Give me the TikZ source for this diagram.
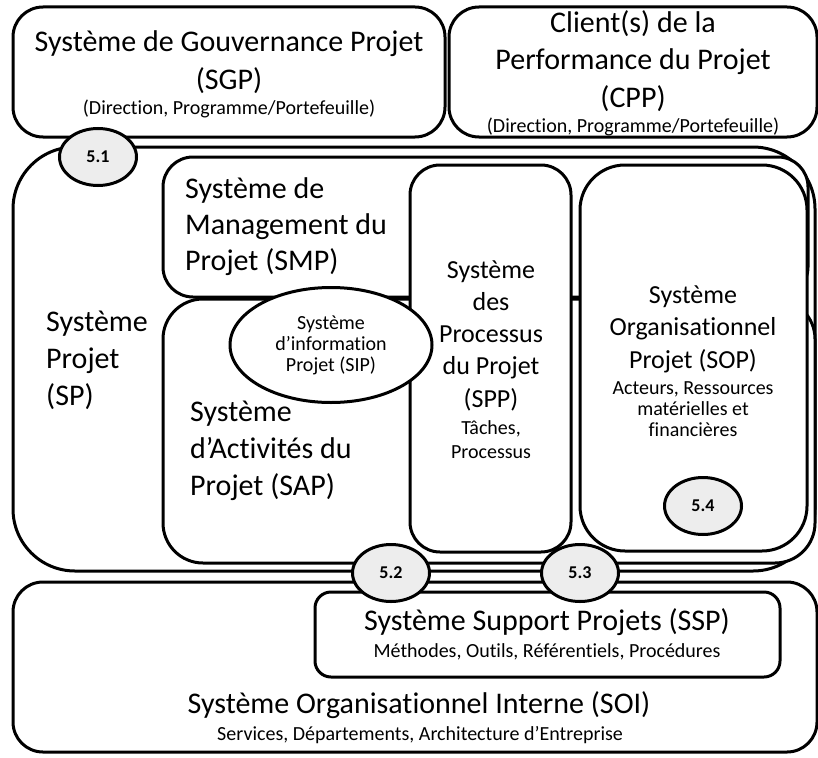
\documentclass[tikz,border=0pt]{standalone}
\usepackage{fontspec}
\setmainfont{Carlito}[Ligatures=NoCommon]
\usepackage{tikz}
\usetikzlibrary{shapes.geometric}

\tikzset{
  frame/.style={draw,line width=3pt,fill=white},
  bigtext/.style={inner sep=0pt,font=\fontsize{30}{37}\selectfont},
  midtext/.style={inner sep=0pt,align=center,font=\fontsize{26}{32.2}\selectfont},
  smalltext/.style={inner sep=0pt,align=center,font=\fontsize{20}{21}\selectfont},
  numbadge/.style={draw,ellipse,line width=3pt,fill=black!7,minimum width=77pt,
    minimum height=57pt,inner sep=0pt,font=\bfseries\fontsize{18}{20}\selectfont}
}

\begin{document}
\begin{tikzpicture}[x=1pt,y=-1pt]
  \useasboundingbox (0,0) rectangle (818,757);

  % Gouvernance and clients
  \draw[frame,rounded corners=30pt] (13,7) rectangle (445,137);
  \draw[frame,rounded corners=30pt] (449,7) rectangle (817,137);
  \node[bigtext,align=center,anchor=base,font=\fontsize{30}{38}\selectfont] (sgp) at (229,90) {Système de Gouvernance Projet\\(SGP)};
  \node[smalltext,anchor=base] (sgpsub) at (229,114) {(Direction, Programme/Portefeuille)};
  \node[bigtext,align=center,anchor=base] (cpp) at (633,107) {Client(s) de la\\Performance du Projet\\(CPP)};
  \node[smalltext,anchor=base] (cppsub) at (633,132) {(Direction, Programme/Portefeuille)};

  % Systeme Projet and its parts
  \draw[frame,rounded corners=62pt] (13,147) rectangle (815,571);
  \draw[frame,rounded corners=30pt] (163,157) rectangle (808,297);
  \draw[frame,rounded corners=40pt] (163,299) rectangle (815,563);
  \draw[frame,rounded corners=30pt] (410,165) rectangle (571,552);
  \draw[frame,rounded corners=45pt] (580,165) rectangle (807,551);
  \node[bigtext,align=left,anchor=base west] (sp) at (46,405) {Système\\Projet\\(SP)};
  \node[bigtext,align=left,anchor=base west,font=\fontsize{30}{36}\selectfont] (smp) at (185,270) {Système de\\Management du\\Projet (SMP)};
  \node[bigtext,align=left,anchor=base west] (sap) at (190,495) {Système\\d’Activités du\\Projet (SAP)};
  \node[midtext,anchor=base] (spp) at (491,407) {Système\\des\\Processus\\du Projet\\(SPP)};
  \node[smalltext,anchor=base,font=\fontsize{20}{24}\selectfont] (sppsub) at (491,458) {Tâches,\\Processus};
  \node[midtext,anchor=base] (sop) at (693,368) {Système\\Organisationnel\\Projet (SOP)};
  \node[smalltext,anchor=base] (sopsub) at (693,436) {Acteurs, Ressources\\matérielles et\\financières};
  \node[frame,ellipse,smalltext,minimum width=202pt,minimum height=115pt] (sip) at (331,345)
    {Système\\d’information\\Projet (SIP)};

  % Organisation interne
  \draw[frame,rounded corners=30pt] (13,582) rectangle (817,752);
  \draw[frame,rounded corners=16pt] (315,592) rectangle (780,677);
  \node[bigtext,anchor=base] (ssp) at (547,630) {Système Support Projets (SSP)};
  \node[smalltext,anchor=base] (sspsub) at (547,657) {Méthodes, Outils, Référentiels, Procédures};
  \node[bigtext,anchor=base] (soi) at (419,713) {Système Organisationnel Interne (SOI)};
  \node[smalltext,anchor=base] (soisub) at (420,740) {Services, Départements, Architecture d’Entreprise};

  % Interfaces
  \node[numbadge] (if51) at (98,157) {5.1};
  \node[numbadge] (if52) at (391,573) {5.2};
  \node[numbadge] (if53) at (580,573) {5.3};
  \node[numbadge] (if54) at (703,506) {5.4};
\end{tikzpicture}
\end{document}
